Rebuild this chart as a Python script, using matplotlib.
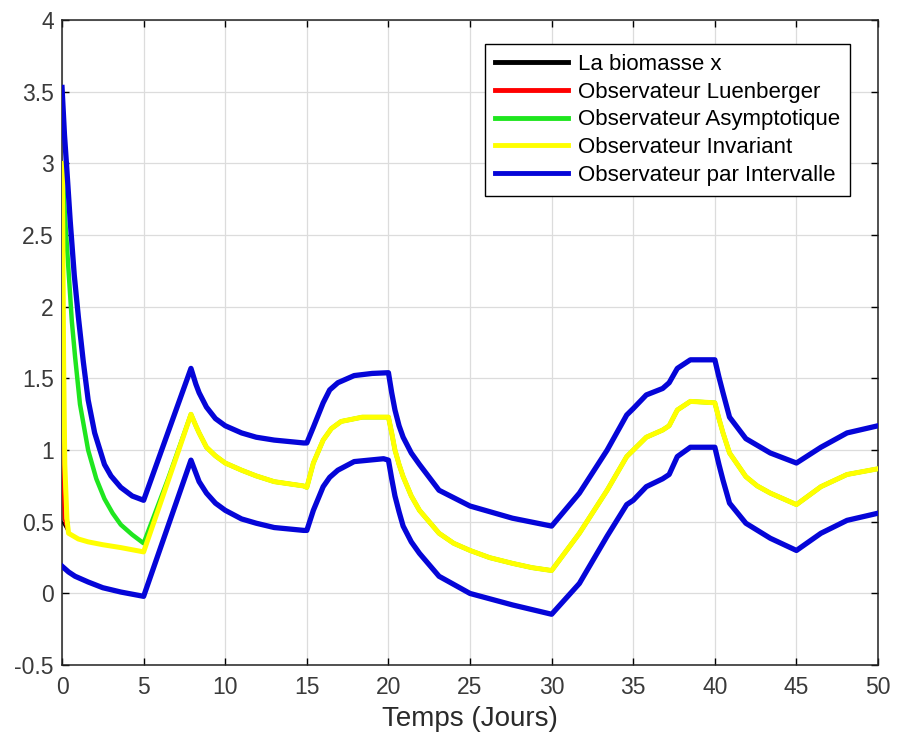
import matplotlib
matplotlib.use("Agg")
import numpy as np
import matplotlib.pyplot as plt

plt.rcParams["font.family"] = ["Liberation Sans", "DejaVu Sans"]

# true biomass x (days, value) -- the observers converge onto it
t_x = [0, 0.4, 1.0, 1.6, 2.5, 3.6, 5.0, 6.0, 7.0, 7.9, 8.2, 8.4, 8.85, 9.4, 10, 11, 11.9,
       13, 14.8, 15, 15.4, 16, 16.5, 17.1, 18.4, 20, 20.2, 20.4, 20.65, 20.9, 21.4, 21.9,
       23.1, 24, 25, 26.2, 27.6, 28.8, 30, 31.7, 33.4, 34.6, 35.8, 36.8, 37.2, 37.7,
       38.5, 40, 40.25, 40.5, 40.9, 41.9, 42.6, 43.4, 45, 46.5, 48.1, 50]
x_vals = [0.5, 0.42, 0.38, 0.36, 0.34, 0.32, 0.29, 0.62, 0.95, 1.25, 1.17, 1.12, 1.02,
          0.96, 0.91, 0.86, 0.82, 0.78, 0.75, 0.74, 0.91, 1.07, 1.15, 1.20, 1.23, 1.23,
          1.12, 1.0, 0.90, 0.815, 0.68, 0.58, 0.42, 0.35, 0.30, 0.25, 0.21, 0.18, 0.16,
          0.42, 0.72, 0.955, 1.09, 1.14, 1.17, 1.28, 1.34, 1.33, 1.22, 1.12, 0.98, 0.815,
          0.75, 0.70, 0.62, 0.745, 0.83, 0.87]

# transient start of each observer before it joins x
t_red_head = [0, 0.03, 0.1, 0.25]
red_head = [1.42, 0.8, 0.52, 0.46]

t_green_head = [0, 0.2, 0.4, 0.6, 0.8, 1.1, 1.6, 2.1, 2.6, 3.1, 3.6, 4.3, 5.0, 6.5]
green_head = [3.0, 2.6, 2.25, 1.9, 1.65, 1.32, 1.0, 0.8, 0.66, 0.56, 0.48, 0.41, 0.35, 0.80]

t_yellow_head = [0.02, 0.1, 0.17, 0.3]
yellow_head = [3.0, 1.6, 0.9, 0.52]

# interval observer bounds
t_up = [0, 0.15, 0.3, 0.5, 0.75, 1.0, 1.3, 1.6, 2.0, 2.6, 3.0, 3.6, 4.3, 5.0, 7.9, 8.2,
        8.4, 8.85, 9.4, 10, 11, 11.9, 13, 14.8, 15, 15.4, 16, 16.4, 16.9, 17.9, 19, 20,
        20.2, 20.4, 20.65, 20.9, 21.4, 21.9, 23.1, 25, 27.6, 30, 31.7, 33.4, 34.6, 35,
        35.8, 36.8, 37.2, 37.7, 38.5, 40, 40.25, 40.5, 40.9, 41.9, 43.4, 45, 46.5, 48.1, 50]
up_vals = [3.53, 3.2, 2.95, 2.6, 2.22, 1.93, 1.62, 1.35, 1.12, 0.9, 0.82, 0.74, 0.68,
           0.65, 1.57, 1.46, 1.40, 1.30, 1.22, 1.17, 1.12, 1.09, 1.07, 1.05, 1.05, 1.16,
           1.33, 1.42, 1.47, 1.52, 1.535, 1.54, 1.40, 1.28, 1.17, 1.09, 0.98, 0.90, 0.72,
           0.61, 0.525, 0.47, 0.70, 1.0, 1.245, 1.29, 1.385, 1.43, 1.47, 1.57, 1.63, 1.63,
           1.51, 1.40, 1.23, 1.08, 0.98, 0.91, 1.02, 1.12, 1.17]

t_low = [0, 0.4, 0.8, 1.2, 1.6, 2.5, 3.6, 4.3, 5.0, 7.9, 8.2, 8.4, 8.85, 9.4, 10, 11,
         11.9, 13, 14.8, 15, 15.4, 16, 16.4, 16.9, 17.9, 19.7, 20, 20.2, 20.4, 20.65,
         20.9, 21.4, 21.9, 23.1, 25, 27.6, 30, 31.7, 33.4, 34.6, 35, 35.8, 36.8, 37.2,
         37.7, 38.5, 40, 40.25, 40.5, 40.9, 41.9, 43.4, 45, 46.5, 48.1, 50]
low_vals = [0.19, 0.15, 0.12, 0.10, 0.08, 0.04, 0.01, -0.005, -0.02, 0.93, 0.84, 0.78,
            0.70, 0.63, 0.58, 0.52, 0.49, 0.46, 0.44, 0.44, 0.58, 0.745, 0.81, 0.86,
            0.92, 0.94, 0.93, 0.80, 0.68, 0.57, 0.47, 0.36, 0.28, 0.12, 0.0, -0.08,
            -0.145, 0.07, 0.40, 0.62, 0.65, 0.745, 0.80, 0.83, 0.955, 1.02, 1.02, 0.90,
            0.79, 0.63, 0.49, 0.385, 0.30, 0.42, 0.51, 0.56]

t_arr = np.array(t_x)
x_arr = np.array(x_vals)


def join(t_head, v_head, t_start):
    keep = t_arr >= t_start
    return (np.concatenate([t_head, t_arr[keep]]),
            np.concatenate([v_head, x_arr[keep]]))


t_red, red_vals = join(t_red_head, red_head, 0.4)
t_green, green_vals = join(t_green_head, green_head, 7.9)
t_yel, yel_vals = join(t_yellow_head, yellow_head, 0.4)

BLUE = "#0505d8"

fig = plt.figure(figsize=(8.99, 7.44), dpi=100)
ax = fig.add_axes([0.069, 0.106, 0.9077, 0.867])

ax.plot(t_x, x_vals, color="black", lw=1.2, label="La biomasse x", zorder=3)
ax.plot(t_red, red_vals, color="#ff0000", lw=1.4, label="Observateur Luenberger", zorder=3)
ax.plot(t_green, green_vals, color="#1fe61f", lw=3.2, label="Observateur Asymptotique", zorder=3)
ax.plot(t_yel, yel_vals, color="#ffff00", lw=3.6, label="Observateur Invariant", zorder=3)
ax.plot(t_up, up_vals, color=BLUE, lw=3.8, label="Observateur par Intervalle", zorder=3)
ax.plot(t_low, low_vals, color=BLUE, lw=3.8, zorder=3)

ax.set_xlim(0, 50)
ax.set_ylim(-0.5, 4)
ax.set_xticks(np.arange(0, 51, 5))
ax.set_yticks(np.arange(-0.5, 4.01, 0.5))
ax.set_yticklabels(["-0.5", "0", "0.5", "1", "1.5", "2", "2.5", "3", "3.5", "4"])
ax.grid(True, color="#dcdcdc", lw=0.9)
ax.set_axisbelow(True)
ax.tick_params(direction="in", top=True, right=True, length=5, width=1,
               labelsize=16.5, labelcolor="#3a3a3a")
ax.tick_params(axis="x", pad=8)
ax.tick_params(axis="y", pad=6)
for s in ax.spines.values():
    s.set_linewidth(1.1)
    s.set_color("#222222")

ax.set_xlabel("Temps (Jours)", fontsize=20, color="#2a2a2a", labelpad=5)

leg = ax.legend(loc="upper right", bbox_to_anchor=(0.966, 0.963), borderaxespad=0,
                fontsize=16, handlelength=3.3, handletextpad=0.45, labelspacing=0.3,
                borderpad=0.45, fancybox=False, framealpha=1)
leg.get_frame().set_edgecolor("black")
leg.get_frame().set_linewidth(1.0)
for line in leg.get_lines():
    line.set_linewidth(3.5)

fig.savefig("out.png", dpi=100)
